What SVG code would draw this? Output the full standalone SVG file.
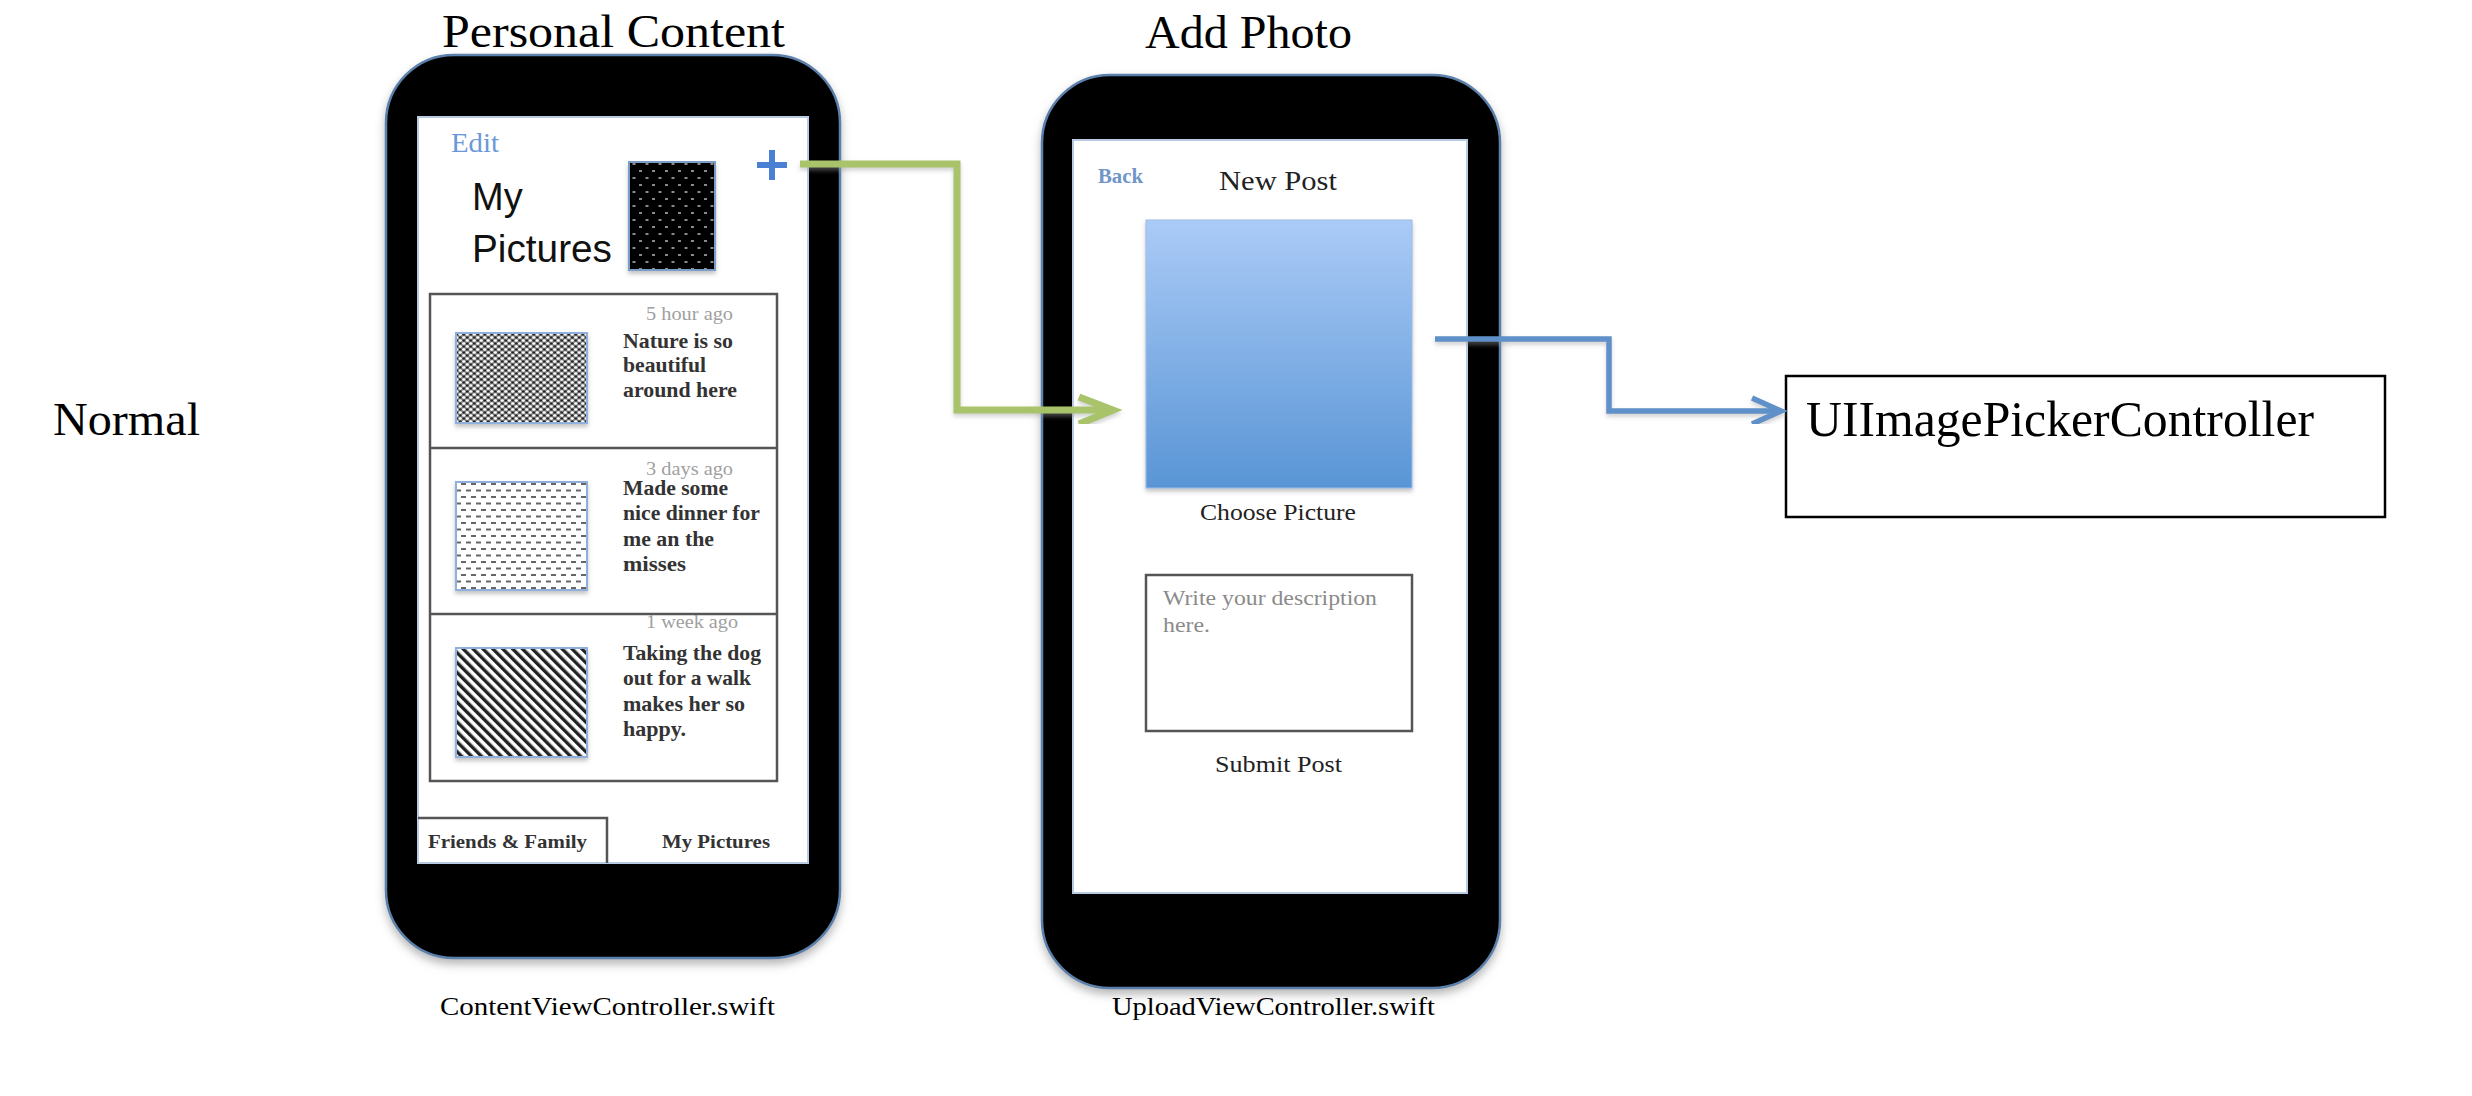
<svg xmlns="http://www.w3.org/2000/svg" width="2472" height="1096" viewBox="0 0 2472 1096">
  <style>
    .serif { font-family: "Liberation Serif", "DejaVu Serif", serif; }
    .sans { font-family: "Liberation Sans", Arial, sans-serif; }
    .title { font-size: 46px; fill: #000; }
    .file { font-size: 25px; fill: #000; }
    .time { font-size: 18px; fill: #a0a0a0; }
    .post { font-size: 20px; font-weight: bold; fill: #333; }
    .tab { font-size: 19px; font-weight: bold; fill: #333; }
    .link { fill: #6a98d8; }
    .label { font-size: 23px; fill: #222; }
    .hint { font-size: 20px; fill: #8a8a8a; }
    .body { fill: #000; stroke: #5a80ab; stroke-width: 2.5; }
    .screen { fill: #fff; stroke: #b9cbe3; stroke-width: 2; }
    .frame { fill: none; stroke: #555; stroke-width: 2.5; }
    .thumb { stroke: #8fb0dc; stroke-width: 2; }
    .wire { fill: none; stroke-linejoin: miter; }
  </style>
  <defs>
    <filter id="phoneShadow" x="-10%" y="-10%" width="120%" height="120%">
      <feGaussianBlur in="SourceAlpha" stdDeviation="5"/>
      <feOffset dy="5" result="b"/>
      <feFlood flood-color="#7a7a7a" flood-opacity="0.55"/>
      <feComposite in2="b" operator="in" result="s"/>
      <feMerge><feMergeNode in="s"/><feMergeNode in="SourceGraphic"/></feMerge>
    </filter>
    <filter id="thumbShadow" x="-10%" y="-10%" width="120%" height="130%">
      <feDropShadow dx="0" dy="3" stdDeviation="2" flood-color="#888" flood-opacity="0.5"/>
    </filter>
    <filter id="wireShadow" x="-5%" y="-5%" width="110%" height="110%">
      <feDropShadow dx="0" dy="3" stdDeviation="2" flood-color="#999" flood-opacity="0.45"/>
    </filter>
    <linearGradient id="pickGrad" x1="0" y1="0" x2="0" y2="1">
      <stop offset="0" stop-color="#abcbf7"/>
      <stop offset="1" stop-color="#5995d5"/>
    </linearGradient>
    <!-- dotted black header image -->
    <pattern id="dots" patternUnits="userSpaceOnUse" width="13" height="14">
      <rect width="13" height="14" fill="#000"/>
      <rect x="2" y="2" width="3" height="2" fill="#8a8a8a"/>
      <rect x="8.5" y="9" width="3" height="2" fill="#8a8a8a"/>
    </pattern>
    <!-- dense woven texture -->
    <pattern id="weave" patternUnits="userSpaceOnUse" width="7" height="6">
      <rect width="7" height="6" fill="#808080"/>
      <ellipse cx="1.75" cy="1.5" rx="1.6" ry="1.2" fill="#fff"/>
      <ellipse cx="5.25" cy="1.5" rx="1.4" ry="1.1" fill="#222"/>
      <ellipse cx="5.25" cy="4.5" rx="1.6" ry="1.2" fill="#fff"/>
      <ellipse cx="1.75" cy="4.5" rx="1.4" ry="1.1" fill="#222"/>
    </pattern>
    <!-- dashed texture -->
    <pattern id="dashes" patternUnits="userSpaceOnUse" width="10" height="13">
      <rect width="10" height="13" fill="#fff"/>
      <rect x="1" y="2" width="5" height="2" fill="#666"/>
      <rect x="6" y="8.5" width="5" height="2" fill="#666"/>
      <rect x="-4" y="8.5" width="5" height="2" fill="#666"/>
    </pattern>
    <!-- diagonal stripes -->
    <pattern id="stripes" patternUnits="userSpaceOnUse" width="7" height="7" patternTransform="rotate(-45)">
      <rect width="7" height="7" fill="#fff"/>
      <rect width="3.4" height="7" fill="#222"/>
    </pattern>
    <marker id="arrGreen" markerUnits="userSpaceOnUse" markerWidth="60" markerHeight="60" viewBox="-40 -30 60 60" refX="0" refY="0" orient="auto" overflow="visible">
      <path d="M-31,-13 L3,0 L-31,14" fill="none" stroke="#a8c36b" stroke-width="7"/>
    </marker>
    <marker id="arrBlue" markerUnits="userSpaceOnUse" markerWidth="60" markerHeight="60" viewBox="-40 -30 60 60" refX="0" refY="0" orient="auto" overflow="visible">
      <path d="M-27,-13 L2,0 L-27,13" fill="none" stroke="#5e90c7" stroke-width="5.5"/>
    </marker>
  </defs>

  <rect width="2472" height="1096" fill="#fff"/>

  <!-- row label -->
  <text class="serif title" x="53" y="435" font-size="45" textLength="147" lengthAdjust="spacingAndGlyphs">Normal</text>

  <!-- Personal Content screen -->
  <g id="content-screen">
    <text class="serif title" x="442" y="47" textLength="343" lengthAdjust="spacingAndGlyphs">Personal Content</text>
    <g filter="url(#phoneShadow)">
      <rect class="body" x="386" y="55" width="454" height="903" rx="68"/>
    </g>
    <rect class="screen" x="418" y="117" width="390" height="746"/>
    <text class="serif link" x="451" y="152" font-size="27" textLength="48" lengthAdjust="spacingAndGlyphs">Edit</text>
    <path d="M757,165 H787 M772,150 V180" stroke="#4a80d4" stroke-width="6" fill="none"/>
    <text class="sans" x="472" y="210" font-size="38" fill="#111">My</text>
    <text class="sans" x="472" y="262" font-size="38" fill="#111" textLength="140" lengthAdjust="spacingAndGlyphs">Pictures</text>
    <rect x="629" y="162" width="86" height="108" fill="url(#dots)" stroke="#7a9cc8" stroke-width="2" filter="url(#thumbShadow)"/>

    <!-- post list -->
    <rect class="frame" x="430" y="294" width="347" height="487"/>
    <line class="frame" x1="430" y1="448" x2="777" y2="448"/>
    <line class="frame" x1="430" y1="614" x2="777" y2="614"/>

    <text class="serif time" x="646" y="320" textLength="87" lengthAdjust="spacingAndGlyphs">5 hour ago</text>
    <rect class="thumb" x="456" y="333" width="131" height="90" fill="url(#weave)" filter="url(#thumbShadow)"/>
    <text class="serif post" x="623" y="348" textLength="110" lengthAdjust="spacingAndGlyphs">Nature is so</text>
    <text class="serif post" x="623" y="372" textLength="83" lengthAdjust="spacingAndGlyphs">beautiful</text>
    <text class="serif post" x="623" y="397" textLength="114" lengthAdjust="spacingAndGlyphs">around here</text>

    <text class="serif time" x="646" y="475" textLength="87" lengthAdjust="spacingAndGlyphs">3 days ago</text>
    <rect class="thumb" x="456" y="482" width="131" height="108" fill="url(#dashes)" filter="url(#thumbShadow)"/>
    <text class="serif post" x="623" y="495" textLength="105" lengthAdjust="spacingAndGlyphs">Made some</text>
    <text class="serif post" x="623" y="520" textLength="137" lengthAdjust="spacingAndGlyphs">nice dinner for</text>
    <text class="serif post" x="623" y="546" textLength="91" lengthAdjust="spacingAndGlyphs">me an the</text>
    <text class="serif post" x="623" y="571" textLength="63" lengthAdjust="spacingAndGlyphs">misses</text>

    <text class="serif time" x="646" y="628" textLength="92" lengthAdjust="spacingAndGlyphs">1 week ago</text>
    <rect class="thumb" x="456" y="648" width="131" height="109" fill="url(#stripes)" filter="url(#thumbShadow)"/>
    <text class="serif post" x="623" y="660" textLength="138" lengthAdjust="spacingAndGlyphs">Taking the dog</text>
    <text class="serif post" x="623" y="685" textLength="128" lengthAdjust="spacingAndGlyphs">out for a walk</text>
    <text class="serif post" x="623" y="711" textLength="122" lengthAdjust="spacingAndGlyphs">makes her so</text>
    <text class="serif post" x="623" y="736" textLength="63" lengthAdjust="spacingAndGlyphs">happy.</text>

    <!-- tab bar -->
    <path class="frame" d="M418,818 H607 V863"/>
    <text class="serif tab" x="428" y="848" textLength="159" lengthAdjust="spacingAndGlyphs">Friends &amp; Family</text>
    <text class="serif tab" x="662" y="848" textLength="108" lengthAdjust="spacingAndGlyphs">My Pictures</text>

    <text class="serif file" x="440" y="1015" textLength="335" lengthAdjust="spacingAndGlyphs">ContentViewController.swift</text>
  </g>

  <!-- Add Photo screen -->
  <g id="upload-screen">
    <text class="serif title" x="1145" y="48" textLength="207" lengthAdjust="spacingAndGlyphs">Add Photo</text>
    <g filter="url(#phoneShadow)">
      <rect class="body" x="1042" y="75" width="458" height="913" rx="68"/>
    </g>
    <rect class="screen" x="1073" y="140" width="394" height="753"/>
    <text class="serif" x="1098" y="183" font-size="20" font-weight="bold" fill="#7096c8" textLength="45" lengthAdjust="spacingAndGlyphs">Back</text>
    <text class="serif" x="1219" y="190" font-size="27" fill="#222" textLength="118" lengthAdjust="spacingAndGlyphs">New Post</text>
    <rect x="1146" y="220" width="266" height="268" fill="url(#pickGrad)" stroke="#9dbde6" stroke-width="1" filter="url(#thumbShadow)"/>
    <text class="serif label" x="1200" y="520" textLength="156" lengthAdjust="spacingAndGlyphs">Choose Picture</text>
    <rect class="frame" x="1146" y="575" width="266" height="156" fill="#fff"/>
    <text class="serif hint" x="1163" y="605" textLength="214" lengthAdjust="spacingAndGlyphs">Write your description</text>
    <text class="serif hint" x="1163" y="632" textLength="47" lengthAdjust="spacingAndGlyphs">here.</text>
    <text class="serif label" x="1215" y="772" textLength="127" lengthAdjust="spacingAndGlyphs">Submit Post</text>
    <text class="serif file" x="1112" y="1015" textLength="323" lengthAdjust="spacingAndGlyphs">UploadViewController.swift</text>
  </g>

  <!-- system picker -->
  <g id="image-picker">
    <rect x="1786" y="376" width="599" height="141" fill="#fff" stroke="#000" stroke-width="2.5"/>
    <text class="serif" x="1806" y="436" font-size="50" fill="#000" textLength="508" lengthAdjust="spacingAndGlyphs">UIImagePickerController</text>
  </g>

  <!-- navigation connectors -->
  <g id="connectors" filter="url(#wireShadow)">
    <path class="wire" d="M800,164 H957 V410 H1110" stroke="#a8c36b" stroke-width="7" marker-end="url(#arrGreen)"/>
    <path class="wire" d="M1435,339 H1609 V411 H1779" stroke="#5e90c7" stroke-width="5.5" marker-end="url(#arrBlue)"/>
  </g>
</svg>
